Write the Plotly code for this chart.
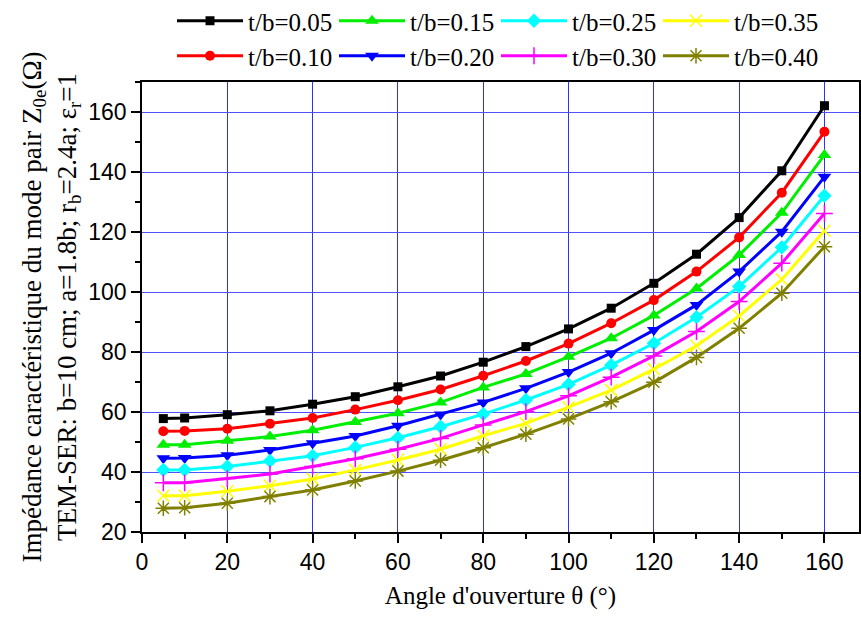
import plotly.graph_objects as go

# Opening angle (degrees)
theta = [5, 10, 20, 30, 40, 50, 60, 70, 80, 90, 100, 110, 120, 130, 140, 150, 160]

# Even-mode characteristic impedance Z0e (ohm) for each t/b ratio
z_005 = [57.8, 58.0, 59.1, 60.4, 62.6, 65.1, 68.4, 72.0, 76.6, 81.8, 87.7, 94.6, 102.9, 112.6, 124.8, 140.4, 162.1]
z_010 = [53.6, 53.7, 54.4, 56.1, 58.0, 60.8, 63.9, 67.5, 72.1, 77.0, 82.8, 89.6, 97.3, 106.8, 118.2, 133.1, 153.4]
z_015 = [49.1, 49.1, 50.4, 51.8, 53.9, 56.7, 59.6, 63.2, 68.2, 72.7, 78.4, 84.6, 92.2, 101.2, 112.3, 126.4, 145.7]
z_020 = [44.6, 44.7, 45.6, 47.3, 49.6, 52.0, 55.4, 59.2, 63.2, 67.9, 73.3, 79.6, 87.3, 95.7, 106.8, 120.1, 138.4]
z_025 = [40.7, 40.7, 41.8, 43.7, 45.4, 48.2, 51.4, 55.1, 59.3, 64.0, 69.2, 75.6, 82.9, 91.6, 101.8, 114.9, 132.1]
z_030 = [36.4, 36.4, 37.8, 39.3, 41.8, 44.4, 47.6, 51.2, 55.7, 60.1, 65.4, 71.6, 78.7, 86.8, 96.8, 109.6, 126.2]
z_035 = [32.1, 32.1, 33.6, 35.4, 37.7, 40.7, 44.0, 47.6, 52.1, 56.2, 61.6, 67.3, 74.3, 82.1, 92.0, 104.2, 120.4]
z_040 = [27.9, 28.1, 29.6, 31.8, 34.0, 37.0, 40.3, 43.9, 48.1, 52.6, 57.7, 63.4, 69.9, 78.2, 87.9, 99.6, 115.1]

labels = ["t/b=0.05", "t/b=0.10", "t/b=0.15", "t/b=0.20",
          "t/b=0.25", "t/b=0.30", "t/b=0.35", "t/b=0.40"]
series = [z_005, z_010, z_015, z_020, z_025, z_030, z_035, z_040]
colors = ["#000000", "#ff0000", "#00ee00", "#0000ff",
          "#00ffff", "#ff00ff", "#ffff00", "#808000"]
symbols = ["square", "circle", "triangle-up", "triangle-down",
           "diamond", "cross-thin", "x-thin", "asterisk"]
sizes = [9, 10, 12, 12, 11, 12, 12, 13]

serif = "Liberation Serif, Times New Roman, serif"
sans = "Liberation Sans, Arial, sans-serif"

fig = go.Figure()
for i, (lab, ys, col, sym, sz) in enumerate(zip(labels, series, colors, symbols, sizes)):
    thin = sym.endswith("thin") or sym == "asterisk"
    fig.add_trace(go.Scatter(
        x=theta, y=ys, name=lab, mode="lines+markers",
        line=dict(color=col, width=3),
        marker=dict(symbol=sym, size=sz, color=col,
                    line=dict(color=col, width=1.5 if thin else 0)),
        legend="legend" if i % 2 == 0 else "legend2",
    ))

legend_common = dict(
    orientation="h", xanchor="left", yanchor="middle",
    xref="container", yref="container",
    font=dict(family=serif, size=25, color="black"),
    bgcolor="rgba(0,0,0,0)", entrywidth=81, itemwidth=66,
    tracegroupgap=0,
)

fig.update_layout(
    width=861, height=620,
    margin=dict(l=142, r=0, t=82, b=88),
    plot_bgcolor="white", paper_bgcolor="white",
    legend=dict(x=172 / 861, y=1 - 21 / 620, **legend_common),
    legend2=dict(x=172 / 861, y=1 - 56 / 620, **legend_common),
    xaxis=dict(
        range=[0, 168.1], tickmode="array", tickvals=list(range(0, 161, 20)),
        showgrid=True, gridcolor="#3030ff", gridwidth=1,
        showline=True, linecolor="black", linewidth=1.5, mirror=True,
        ticks="outside", ticklen=9, tickwidth=1.5, tickcolor="black",
        minor=dict(dtick=10, ticks="outside", ticklen=5, tickcolor="black", showgrid=False),
        tickfont=dict(family=sans, size=23, color="black"),
        title=dict(text="Angle d'ouverture θ (°)",
                   font=dict(family=serif, size=25, color="black"), standoff=12),
        zeroline=False,
    ),
    yaxis=dict(
        range=[20, 170], tickmode="array", tickvals=list(range(20, 161, 20)),
        showgrid=True, gridcolor="#5050ff", gridwidth=1,
        showline=True, linecolor="black", linewidth=1.5, mirror=True,
        ticks="outside", ticklen=9, tickwidth=1.5, tickcolor="black",
        minor=dict(dtick=10, ticks="outside", ticklen=5, tickcolor="black", showgrid=False),
        tickfont=dict(family=sans, size=23, color="black"),
        title=dict(text="Impédance caractéristique du mode pair Z<sub>0e</sub>(Ω)<br>"
                        "TEM-SER: b=10 cm; a=1.8b; r<sub>b</sub>=2.4a; ε<sub>r</sub>=1",
                   font=dict(family=serif, size=27, color="black"), standoff=4),
        zeroline=False,
    ),
)

fig.write_html("out.html")
